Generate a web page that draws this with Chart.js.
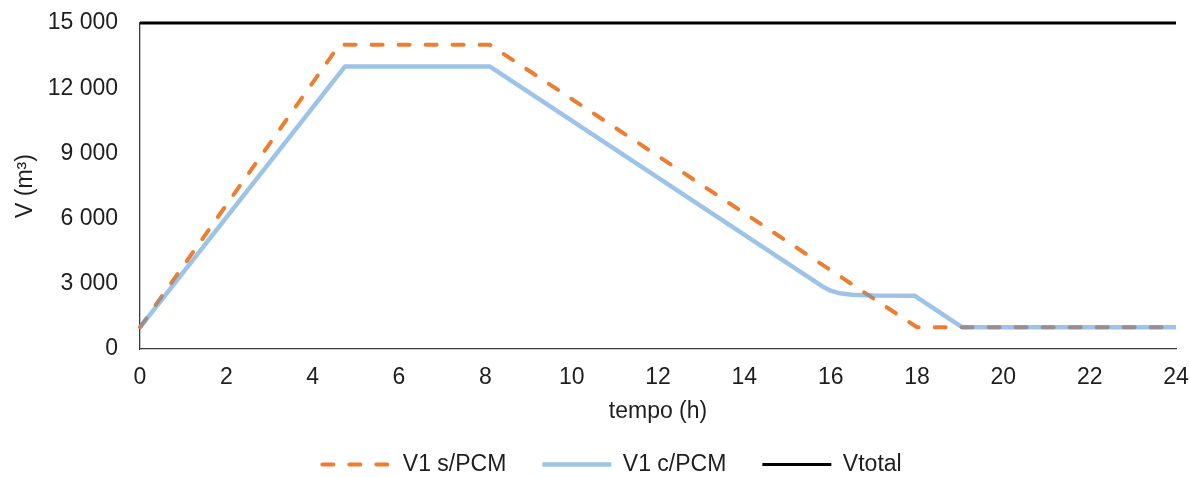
<!DOCTYPE html>
<html>
<head>
<meta charset="utf-8">
<script src="https://cdn.jsdelivr.net/npm/chart.js@4/dist/chart.umd.min.js"></script>
<style>
  html, body { margin: 0; padding: 0; background: #fff; }
  canvas { display: block; }
</style>
</head>
<body>
<canvas id="c" width="1190" height="477"></canvas>
<script>
// ---- data ----
const sTime = [0, 4.62, 8.1, 18.0, 24];
const sVol  = [1000, 14000, 14000, 1000, 1000];

const cTime = [0, 4.75, 8.1, 15.8, 16.0, 16.2, 16.5, 17.0, 17.95, 19.05, 24];
const cVol  = [1000, 13000, 13000, 2890, 2680, 2570, 2500, 2460, 2445, 1000, 1000];

const tTime = [0, 24];
const tVol  = [15000, 15000];

const seriesNames = ['V1 s/PCM', 'V1 c/PCM', 'Vtotal'];
const yTicks = [0, 3000, 6000, 9000, 12000, 15000];
const xTicks = [0, 2, 4, 6, 8, 10, 12, 14, 16, 18, 20, 22, 24];
const xTitle = 'tempo (h)';
const yTitle = 'V (m³)';

const pts = (xs, ys) => xs.map((x, i) => ({ x: x, y: ys[i] }));
const fmt = v => String(v).replace(/\B(?=(\d{3})+(?!\d))/g, ' ');

const FONT = 'Liberation Sans, Arial, sans-serif';
const TXT = '#1e1e1e';

const legendShift = {
  id: 'legendShift',
  afterLayout(chart) {
    const l = chart.legend;
    if (l) { l.left += 24; l.right += 24; l.top += 1; l.bottom += 1; }
  }
};

const zeroPad = s => { s.paddingTop = 0; s.paddingBottom = 0; s.paddingLeft = 0; s.paddingRight = 0; };

new Chart(document.getElementById('c'), {
  type: 'line',
  data: {
    datasets: [
      {
        label: seriesNames[0],
        data: pts(sTime, sVol),
        borderColor: '#ED7D31',
        backgroundColor: '#ED7D31',
        borderWidth: 4,
        borderDash: [11, 16],
        borderCapStyle: 'round',
        pointRadius: 0,
        tension: 0,
        clip: 6,
        order: 2
      },
      {
        label: seriesNames[1],
        data: pts(cTime, cVol),
        borderColor: 'rgba(91,155,213,0.6)',
        backgroundColor: 'rgba(91,155,213,0.6)',
        borderWidth: 4.5,
        borderJoinStyle: 'round',
        pointRadius: 0,
        tension: 0,
        clip: 6,
        order: 1
      },
      {
        label: seriesNames[2],
        data: pts(tTime, tVol),
        borderColor: '#000000',
        backgroundColor: '#000000',
        borderWidth: 3,
        pointRadius: 0,
        tension: 0,
        clip: 6,
        order: 0
      }
    ]
  },
  options: {
    responsive: false,
    animation: false,
    events: [],
    layout: { padding: { left: 0, right: 14, top: 23, bottom: -8 } },
    plugins: {
      tooltip: { enabled: false },
      legend: {
        display: true,
        position: 'bottom',
        labels: {
          usePointStyle: true,
          pointStyle: 'line',
          pointStyleWidth: 69,
          padding: 36,
          color: TXT,
          font: { family: FONT, size: 23 },
          sort: (a, b) => a.datasetIndex - b.datasetIndex,
          generateLabels: (chart) => {
            const items = Chart.defaults.plugins.legend.labels.generateLabels(chart);
            return items.map(it => {
              const ds = chart.data.datasets[it.datasetIndex];
              it.lineDash = ds.borderDash || [];
              it.lineWidth = ds.borderWidth;
              it.lineCap = ds.borderCapStyle || 'butt';
              it.strokeStyle = ds.borderColor;
              it.pointStyle = 'line';
              return it;
            });
          }
        }
      }
    },
    scales: {
      x: {
        type: 'linear',
        min: 0, max: 24,
        grid: { display: false, drawTicks: false },
        border: { display: true, color: '#3a3a3a', width: 1.3 },
        afterBuildTicks: s => { s.ticks = xTicks.map(v => ({ value: v })); },
        ticks: { padding: 15, color: TXT, font: { family: FONT, size: 23 }, maxRotation: 0, autoSkip: false },
        title: { display: true, text: xTitle, color: TXT, font: { family: FONT, size: 23 }, padding: { top: 0, bottom: -9 } },
        afterFit: s => { s.height = 67; zeroPad(s); }
      },
      y: {
        type: 'linear',
        min: 0, max: 15000,
        grid: { display: false, drawTicks: false },
        border: { display: true, color: '#3a3a3a', width: 1.3 },
        afterBuildTicks: s => { s.ticks = yTicks.map(v => ({ value: v })); },
        ticks: { padding: 22, color: TXT, font: { family: FONT, size: 23 }, callback: v => fmt(v) },
        title: { display: true, text: yTitle, color: TXT, font: { family: FONT, size: 23 }, padding: { top: 12, bottom: 0 } },
        afterFit: s => { s.width = 140; zeroPad(s); }
      }
    }
  },
  plugins: [legendShift]
});
</script>
</body>
</html>
